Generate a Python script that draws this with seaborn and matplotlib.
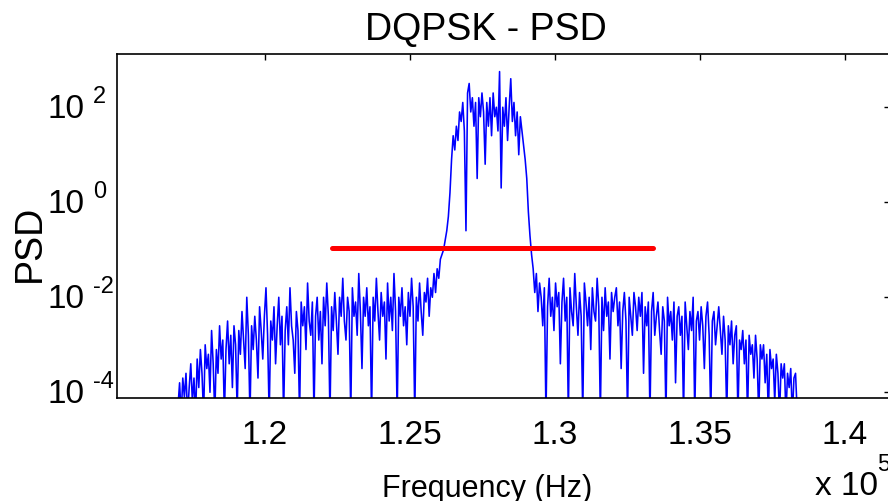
import numpy as np
import matplotlib
matplotlib.use("Agg")
import matplotlib.pyplot as plt
import seaborn as sns

# ---- data -------------------------------------------------------------
# Frequency span of the estimated spectrum (Hz)
f_start = 117000.0
f_stop = 138350.0

# PSD estimate as log10 values: lower skirt, main lobe, upper skirt
skirt_left_log10 = [
    -4.3, -3.8, -4.5, -3.7, -4.1, -3.6, -4.5, -3.9, -3.4, -4.2, -3.7, -4.5, -3.3,
    -3.9, -3.1, -3.6, -4.5, -3.0, -3.5, -3.2, -4.0, -2.7, -3.4, -4.5, -3.1, -3.6,
    -2.6, -3.3, -2.9, -4.5, -3.1, -2.5, -3.4, -2.8, -3.9, -2.6, -3.0, -4.4, -2.7,
    -3.2, -2.3, -2.9, -3.5, -2.0, -2.8, -4.5, -2.6, -3.1, -2.4, -2.9, -3.7, -2.2,
    -2.7, -3.3, -2.4, -1.8, -2.8, -4.5, -2.5, -2.9, -2.2, -3.4, -2.6, -2.0, -3.0,
    -2.4, -4.5, -2.7, -2.2, -3.0, -1.8, -2.6, -2.9, -3.6, -2.3, -2.7, -4.5, -2.1,
    -2.6, -2.2, -3.1, -1.7, -2.5, -2.8, -2.1, -4.5, -2.4, -2.0, -2.9, -2.3, -3.4,
    -2.0, -2.6, -1.7, -2.4, -4.5, -2.2, -2.7, -1.9, -2.5, -3.2, -2.0, -2.4, -1.6,
    -2.5, -2.9, -2.0, -2.3, -4.5, -1.8, -2.4, -2.1, -2.8, -1.5, -2.3, -3.5, -2.0,
    -2.4, -1.8, -2.6, -2.2, -4.5, -2.0, -2.5, -1.6, -2.3, -2.9, -1.9, -2.4, -2.1,
    -3.3, -1.7, -2.5, -2.0, -2.7, -1.5, -2.3, -4.5, -2.0, -2.4, -1.8, -2.6, -2.2,
    -3.0, -1.9, -2.4, -1.6, -2.2, -4.5, -2.0, -2.5, -1.7, -2.3, -2.8, -1.9, -2.1,
    -1.6, -2.4, -1.8, -2.0, -1.5, -1.9, -1.4, -1.6, -1.2, -1.1,
]
main_lobe_log10 = [
    -1.0, -0.8, -0.6, -0.3, 0.2, 0.9, 1.4, 1.1, 1.6, 1.3,
    1.9, 1.7, 2.1, 1.5, -0.6, 2.3, 2.5, 1.9, 2.2, 1.6,
    2.1, 0.5, 2.2, 1.8, 2.3, 1.9, 0.8, 2.1, 1.6, 2.2,
    1.4, 2.3, 1.8, 2.0, 1.5, 2.75, 0.3, 2.0, 1.6, 2.2,
    1.3, 2.0, 2.6, 1.7, 2.1, 1.4, 1.9, 1.0, 1.8, 1.5,
    1.2, 0.9, 0.5, -0.2, -0.7, -1.1,
]
skirt_right_log10 = [
    -1.4, -1.9, -1.5, -2.3, -1.7, -2.0, -2.6, -1.8, -4.5, -2.2, -1.6, -2.4, -2.0,
    -2.7, -1.7, -2.2, -1.9, -3.4, -2.1, -1.6, -2.5, -2.0, -4.5, -1.8, -2.3, -2.6,
    -1.5, -2.2, -2.8, -1.9, -2.4, -4.5, -1.7, -2.1, -2.6, -2.0, -3.1, -1.8, -2.3,
    -2.5, -1.6, -2.2, -4.5, -2.0, -2.7, -1.8, -2.4, -2.1, -3.3, -1.9, -2.3, -2.0,
    -1.8, -2.6, -2.1, -3.5, -2.3, -1.9, -2.5, -4.5, -2.0, -2.4, -2.8, -1.9, -2.2,
    -2.7, -2.0, -2.4, -1.9, -3.6, -2.2, -2.6, -2.1, -4.5, -2.3, -1.9, -2.8, -2.4,
    -2.1, -2.7, -3.2, -2.2, -2.5, -4.5, -2.0, -2.6, -2.3, -2.9, -2.1, -3.8, -2.4,
    -2.2, -2.8, -2.4, -4.5, -2.1, -2.6, -3.1, -2.3, -2.7, -2.0, -4.5, -2.5, -2.3,
    -2.9, -2.2, -2.6, -3.5, -2.4, -2.1, -2.8, -4.5, -2.5, -2.3, -3.0, -2.6, -2.2,
    -2.7, -3.2, -2.4, -2.9, -4.5, -2.6, -3.0, -2.5, -3.4, -2.8, -2.6, -4.5, -2.9,
    -3.1, -2.7, -3.4, -2.9, -4.5, -2.8, -3.2, -3.0, -3.7, -2.8, -3.3, -4.5, -3.0,
    -3.3, -3.0, -3.8, -3.2, -4.5, -3.1, -3.5, -3.3, -4.2, -3.2, -3.6, -4.5, -3.4,
    -3.7, -3.4, -4.5, -3.6, -3.9, -3.5, -4.5, -3.7, -3.6, -4.4,
]

# Threshold marker
threshold_freq = [122310.0, 133380.0]
threshold_psd = [0.107, 0.107]

# Axis ticks
x_ticks = [1.20e5, 1.25e5, 1.30e5, 1.35e5, 1.40e5]
x_tick_labels = ["1.2", "1.25", "1.3", "1.35", "1.4"]
y_ticks = [1e-4, 1e-2, 1e0, 1e2]
y_tick_exps = ["-4", "-2", "0", "2"]

# ---- assemble ---------------------------------------------------------
psd = 10.0 ** np.array(skirt_left_log10 + main_lobe_log10 + skirt_right_log10)
freq = np.linspace(f_start, f_stop, len(psd))

# ---- style ------------------------------------------------------------
sns.set_theme(style="white")
plt.rcParams["font.family"] = ["Liberation Sans", "DejaVu Sans"]
for key in ("text.color", "axes.labelcolor", "xtick.color", "ytick.color"):
    plt.rcParams[key] = "black"

W, H = 888, 502
PX = 72.0 / 100.0  # points per pixel at 100 dpi
fig = plt.figure(figsize=(W / 100, H / 100), dpi=100)
left, right, top, bottom = 117, 890, 55, 399
ax = fig.add_axes([left / W, 1 - bottom / H, (right - left) / W, (bottom - top) / H])

sns.lineplot(x=freq, y=psd, ax=ax, color="#0000FF", linewidth=1.15,
             estimator=None, sort=False)
sns.lineplot(x=threshold_freq, y=threshold_psd, ax=ax, color="#FF0000",
             linewidth=3.6, estimator=None, sort=False)

ax.set_yscale("log")
ax.set_xlim(114897, 141552)
ax.set_ylim(10 ** -4.12, 10 ** 3.12)

ax.set_xticks(x_ticks)
ax.set_xticklabels(x_tick_labels)
ax.set_yticks(y_ticks)
ax.set_yticklabels([""] * len(y_ticks))
ax.minorticks_off()

ax.tick_params(axis="both", which="major", direction="in", length=4,
               width=1.0, color="black", labelsize=24, labelcolor="black",
               top=True, right=True)
ax.tick_params(axis="x", pad=15)

# Decade labels: "10" with a raised, smaller exponent
ytrans = ax.get_yaxis_transform()
for v, e in zip(y_ticks, y_tick_exps):
    ax.annotate("10", xy=(0, v), xycoords=ytrans,
                xytext=(-32 * PX, -1 * PX), textcoords="offset points",
                ha="right", va="center", fontsize=24, annotation_clip=False)
    ax.annotate(e, xy=(0, v), xycoords=ytrans,
                xytext=(-24 * PX, 5 * PX), textcoords="offset points",
                ha="left", va="baseline", fontsize=17, annotation_clip=False)

for sp in ax.spines.values():
    sp.set_visible(True)
    sp.set_color("black")
    sp.set_linewidth(1.2)

ax.set_xlabel("")
ax.set_ylabel("")

# Title and axis labels placed in figure pixels
fig.text(486 / W, 1 - 40 / H, "DQPSK - PSD", fontsize=27,
         ha="center", va="baseline")
fig.text(487 / W, 1 - 497 / H, "Frequency (Hz)", fontsize=22,
         ha="center", va="baseline")
fig.text(30 / W, 1 - 243 / H, "PSD", fontsize=27, rotation=90,
         ha="center", va="center")
fig.text(815 / W, 1 - 495 / H, "x 10", fontsize=24,
         ha="left", va="baseline")
fig.text(877 / W, 1 - 471 / H, "5", fontsize=17,
         ha="left", va="baseline")

fig.savefig("out.png", dpi=100)
